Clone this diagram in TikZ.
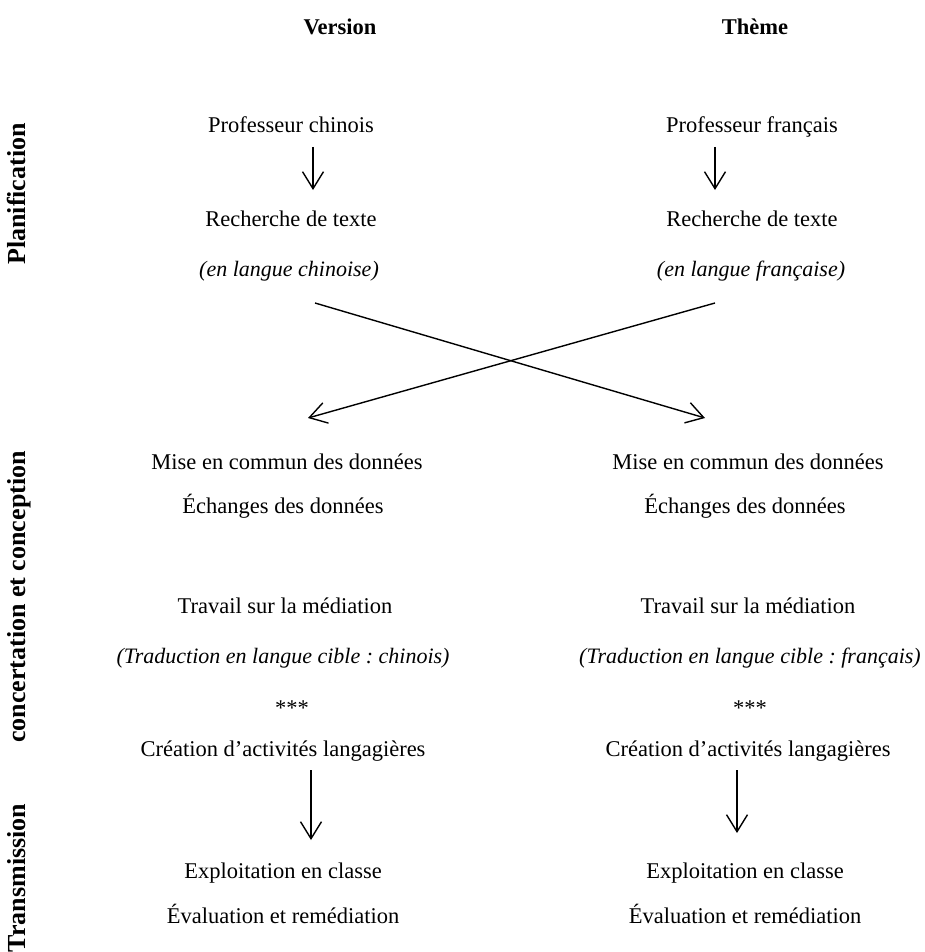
\documentclass[tikz,border=0pt]{standalone}
\usepackage{fontspec}
\setmainfont{Liberation Serif}
\usetikzlibrary{arrows.meta}
\frenchspacing

\begin{document}
\begin{tikzpicture}[
    x=1pt, y=-1pt,
    txt/.style={font=\fontsize{22.5}{26}\selectfont, inner sep=0pt,
        text height=15pt, text depth=5pt, yshift=-3pt},
    note/.style={txt, font=\fontsize{22}{26}\selectfont\itshape},
    title/.style={txt, font=\fontsize{22.5}{26}\selectfont\bfseries},
    phase/.style={txt, font=\fontsize{26}{30}\selectfont\bfseries, rotate=90},
    arrow/.style={-{Straight Barb[length=17pt, width=21pt]}, line width=1.4pt}
]
    \useasboundingbox (0,0) rectangle (924,952);

    % --- Column titles ---
    \node[title] (tv) at (340, 27) {Version};
    \node[title] (tt) at (755, 27) {Thème};

    % --- Phase labels (left margin) ---
    \node[phase] (p1) at (20, 191) {Planification};
    \node[phase] (p2) at (20, 594) {concertation et conception};
    \node[phase] (p3) at (20, 875) {Transmission};

    % --- Planning (Version) ---
    \node[txt]  (pc) at (291, 125) {Professeur chinois};
    \node[txt]  (rc) at (291, 218) {Recherche de texte};
    \node[note] (lc) at (289, 268) {(en langue chinoise)};

    % --- Planning (Thème) ---
    \node[txt]  (pf) at (752, 125) {Professeur français};
    \node[txt]  (rf) at (752, 218) {Recherche de texte};
    \node[note] (lf) at (751, 268) {(en langue française)};

    % --- Design (Version) ---
    \node[txt]  (mc) at (287, 461) {Mise en commun des données};
    \node[txt]  (ec) at (283, 505) {Échanges des données};
    \node[txt]  (tc) at (285, 605) {Travail sur la médiation};
    \node[note] (dc) at (283, 655) {(Traduction en langue cible : chinois)};
    \node[txt]  (sc) at (292, 707) {***};
    \node[txt]  (cc) at (283, 748) {Création d’activités langagières};

    % --- Design (Thème) ---
    \node[txt]  (mf) at (748, 461) {Mise en commun des données};
    \node[txt]  (ef) at (745, 505) {Échanges des données};
    \node[txt]  (tf) at (748, 605) {Travail sur la médiation};
    \node[note] (df) at (750, 655) {(Traduction en langue cible : français)};
    \node[txt]  (sf) at (750, 707) {***};
    \node[txt]  (cf) at (748, 748) {Création d’activités langagières};

    % --- Transmission ---
    \node[txt] (xc) at (283, 870) {Exploitation en classe};
    \node[txt] (vc) at (283, 915) {Évaluation et remédiation};
    \node[txt] (xf) at (745, 870) {Exploitation en classe};
    \node[txt] (vf) at (745, 915) {Évaluation et remédiation};

    % --- Vertical arrows ---
    \draw[arrow] (313, 147) coordinate (a1) -- (313, 190) coordinate (b1);
    \draw[arrow] (715, 147) coordinate (a2) -- (715, 190) coordinate (b2);
    \draw[arrow] (311, 770) coordinate (a3) -- (311, 840) coordinate (b3);
    \draw[arrow] (737, 770) coordinate (a4) -- (737, 833) coordinate (b4);

    % --- Crossed exchange ---
    \coordinate (xa) at (315, 303);
    \coordinate (xb) at (705, 418);
    \coordinate (ya) at (715, 303);
    \coordinate (yb) at (308, 418);
    \draw[arrow] (xa) -- (xb);
    \draw[arrow] (ya) -- (yb);
\end{tikzpicture}
\end{document}
